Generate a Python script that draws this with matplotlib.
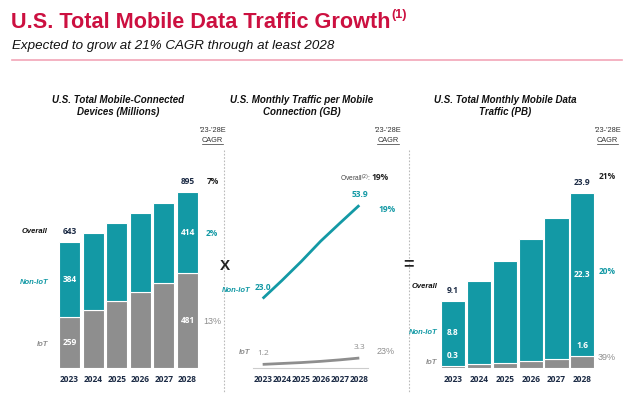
import numpy as np
import matplotlib.pyplot as plt
from matplotlib import font_manager
from matplotlib.lines import Line2D

# ---- data ----
years = ["2023", "2024", "2025", "2026", "2027", "2028"]

# devices (millions)
dev_iot = [259, 295, 341, 387, 432, 481]
dev_noniot = [384, 393, 395, 400, 406, 414]

# monthly traffic per connection (GB)
gb_noniot = [23.0, 29.0, 35.3, 42.0, 48.0, 53.9]
gb_iot = [1.2, 1.5, 1.8, 2.2, 2.7, 3.3]

# total monthly traffic (PB)
pb_iot = [0.3, 0.5, 0.7, 0.9, 1.2, 1.6]
pb_noniot = [8.8, 11.3, 13.9, 16.7, 19.3, 22.3]

cagr_dev = ["7%", "2%", "13%"]
cagr_gb = ["19%", "19%", "23%"]
cagr_pb = ["21%", "20%", "39%"]

# ---- styles ----
TEAL = "#1399A5"
GREY = "#8E8E8E"
NAVY = "#1C2B45"
RED = "#CC1040"
W, H = 640, 404

plt.rcParams["font.family"] = ["Liberation Sans", "DejaVu Sans"]

# header font is a narrow grotesque; use the narrow face if it is there
try:
    font_manager.findfont("Liberation Sans Narrow", fallback_to_default=False)
    HEAD, head_scale = "Liberation Sans Narrow", 1.0
except Exception:
    HEAD, head_scale = "Liberation Sans", 0.82

fig = plt.figure(figsize=(W / 100, H / 100), dpi=100)
fig.patch.set_facecolor("white")


def fx(x):
    return x / W


def fy(y):
    return 1 - y / H


def ptext(x, y, s, **kw):
    # text placed in pixel coords of the 640x404 canvas
    kw.setdefault("va", "center")
    return fig.text(fx(x), fy(y), s, **kw)


def add_ax(left, top, right, bottom):
    ax = fig.add_axes([fx(left), fy(bottom), (right - left) / W, (bottom - top) / H])
    for s in ax.spines.values():
        s.set_visible(False)
    ax.set_yticks([])
    ax.set_xticks(range(len(years)))
    ax.set_xticklabels(years, fontfamily="Open Sans", fontweight="bold",
                       fontsize=6, color=NAVY)
    ax.tick_params(axis="x", length=0, pad=5)
    ax.patch.set_alpha(0)
    return ax


x = np.arange(len(years))
num = dict(fontfamily="Open Sans", fontweight="bold", fontsize=6)

# ---- header ----
t = ptext(11, 23, "U.S. Total Mobile Data Traffic Growth", fontsize=19 * head_scale,
          fontweight="bold", color=RED, ha="left", fontfamily=HEAD)
fig.canvas.draw()
bb = t.get_window_extent()
fig.text(bb.x1 / W + 0.002, fy(15), "(1)", fontsize=11 * head_scale, fontweight="bold",
         color=RED, ha="left", va="center", fontfamily=HEAD)
ptext(12, 46, "Expected to grow at 21% CAGR through at least 2028",
      fontsize=11.7 * head_scale, style="italic", color="#111111", ha="left",
      fontfamily=HEAD)
fig.add_artist(Line2D([fx(12), fx(622)], [fy(60), fy(60)], color="#F2A5B8", lw=1.2))

# ---- chart titles ----
ttl = dict(fontsize=7, fontweight="bold", style="italic", color="#111111",
           ha="center", linespacing=1.15)
ptext(118, 106, "U.S. Total Mobile-Connected\nDevices (Millions)", **ttl)
ptext(302, 106, "U.S. Monthly Traffic per Mobile\nConnection (GB)", **ttl)
ptext(505, 106, "U.S. Total Monthly Mobile Data\nTraffic (PB)", **ttl)

# CAGR headers
for cx in (212.7, 388, 607.7):
    ptext(cx, 131, "'23-'28E", fontsize=5.3, color="#333333", ha="center")
    c = ptext(cx, 140, "CAGR", fontsize=5.3, color="#333333", ha="center")
    fig.canvas.draw()
    cb = c.get_window_extent()
    fig.add_artist(Line2D([cb.x0 / W, cb.x1 / W], [cb.y0 / H - 0.002] * 2,
                          color="#333333", lw=0.5))

# separators
for sx in (224, 409):
    fig.add_artist(Line2D([fx(sx), fx(sx)], [fy(150), fy(392)], color="#BBBBBB",
                          lw=0.8, ls=(0, (1.5, 1.5))))
ptext(225, 266, "X", fontsize=11, fontweight="bold", color="#222222", ha="center")
ptext(409, 265, "=", fontsize=13, fontweight="bold", color="#222222", ha="center")

cat = dict(fontsize=5.5, fontweight="bold", style="italic", ha="right")

# ---- left: devices ----
ax1 = add_ax(50, 150, 210, 368)
ax1.set_xlim(-0.826, 5.95)
ax1.set_ylim(0, 1109)
ax1.bar(x, dev_iot, width=0.89, color=GREY, edgecolor="white", lw=0.8)
ax1.bar(x, dev_noniot, bottom=dev_iot, width=0.89, color=TEAL, edgecolor="white", lw=0.8)
tot1 = [a + b for a, b in zip(dev_iot, dev_noniot)]
for i in (0, 5):
    ax1.annotate(f"{tot1[i]}", (i, tot1[i]), xytext=(0, 7.5), textcoords="offset points",
                 ha="center", va="center", color=NAVY, **num)
    ax1.text(i, dev_iot[i] + dev_noniot[i] / 2, f"{dev_noniot[i]}", ha="center",
             va="center", color="white", **num)
    ax1.text(i, dev_iot[i] / 2, f"{dev_iot[i]}", ha="center", va="center",
             color="white", **num)
ptext(48, 232, "Overall", color="#111111", **cat)
ptext(48, 282, "Non-IoT", color=TEAL, **cat)
ptext(48, 344, "IoT", color=GREY, **cat)
ptext(213, 182, cagr_dev[0], color="#222222", ha="center", **num)
ptext(212, 234, cagr_dev[1], color=TEAL, ha="center", **num)
ptext(212.5, 322, cagr_dev[2], color=GREY, ha="center", fontsize=6.5)

# ---- middle: GB per connection ----
ax2 = add_ax(253, 150, 368, 368)
ax2.set_xlim(-0.50, 5.45)
ax2.set_ylim(0, 72.2)
ax2.spines["bottom"].set_visible(True)
ax2.spines["bottom"].set_color("#CCCCCC")
ax2.spines["bottom"].set_linewidth(0.8)
ax2.plot(x, gb_noniot, color=TEAL, lw=2, solid_capstyle="butt")
ax2.plot(x, gb_iot, color=GREY, lw=2, solid_capstyle="butt")
for i in (0, 5):
    ax2.annotate(f"{gb_noniot[i]:.1f}", (i, gb_noniot[i]), xytext=(0.5, 8),
                 textcoords="offset points", ha="center", va="center", color=TEAL, **num)
    ax2.annotate(f"{gb_iot[i]:.1f}", (i, gb_iot[i]), xytext=(0, 7.5),
                 textcoords="offset points", ha="center", va="center", color=GREY,
                 fontfamily="Open Sans", fontsize=6)
ptext(250, 290, "Non-IoT", color=TEAL, **cat)
ptext(250, 353, "IoT", color=GREY, **cat)
ptext(371, 178, r"Overall$^{(2)}$:", fontsize=4.8, color="#444444", ha="right")
ptext(380, 178, cagr_gb[0], color="#222222", ha="center", **num)
ptext(387, 209, cagr_gb[1], color=TEAL, ha="center", **num)
ptext(386, 352, cagr_gb[2], color=GREY, ha="center", fontsize=6.5)

# ---- right: total PB ----
ax3 = add_ax(438, 150, 600, 368)
ax3.set_xlim(-0.58, 5.68)
ax3.set_ylim(0, 29.7)
ax3.bar(x, pb_iot, width=0.93, color=GREY, edgecolor="white", lw=0.8)
ax3.bar(x, pb_noniot, bottom=pb_iot, width=0.93, color=TEAL, edgecolor="white", lw=0.8)
tot3 = [a + b for a, b in zip(pb_iot, pb_noniot)]
for i in (0, 5):
    ax3.annotate(f"{tot3[i]:.1f}", (i, tot3[i]), xytext=(0, 7.5), textcoords="offset points",
                 ha="center", va="center", color=NAVY, **num)
    ax3.annotate(f"{pb_iot[i]:.1f}", (i, pb_iot[i]), xytext=(0, 7.5),
                 textcoords="offset points", ha="center", va="center", color="white", **num)
ax3.text(0, pb_iot[0] + pb_noniot[0] * 0.52, f"{pb_noniot[0]:.1f}", ha="center",
         va="center", color="white", **num)
ax3.text(5, pb_iot[5] + pb_noniot[5] / 2, f"{pb_noniot[5]:.1f}", ha="center",
         va="center", color="white", **num)
ptext(437, 286, "Overall", color="#111111", **cat)
ptext(437, 333, "Non-IoT", color=TEAL, **cat)
ptext(437, 362, "IoT", color=GREY, **cat)
ptext(607, 177, cagr_pb[0], color="#222222", ha="center", **num)
ptext(607, 271, cagr_pb[1], color=TEAL, ha="center", **num)
ptext(607, 357, cagr_pb[2], color=GREY, ha="center", fontsize=6.5)

fig.savefig("out.png", dpi=100)
